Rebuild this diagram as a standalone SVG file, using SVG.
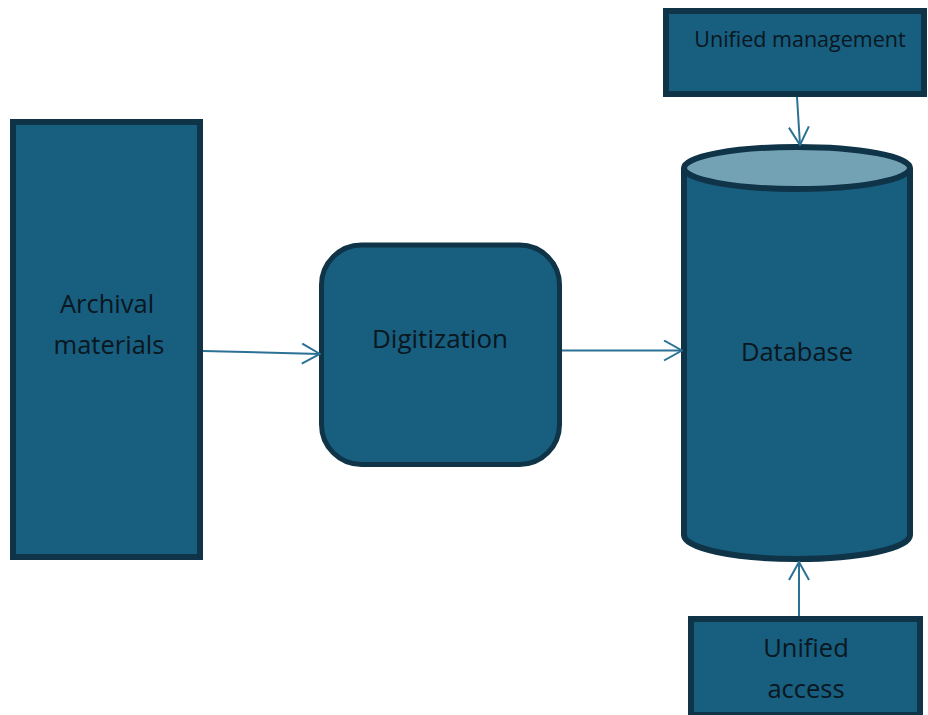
<svg xmlns="http://www.w3.org/2000/svg" width="928" height="715" viewBox="0 0 928 715">
<style>
.box{fill:#175e7f;stroke:#0f3347;stroke-width:6}
.lbl{font-family:"Open Sans","Noto Sans",sans-serif;fill:#0a1620;text-anchor:middle}
.conn{stroke:#2b7195;stroke-width:2;fill:none}
</style>
<defs>
<marker id="arr" viewBox="0 0 20 22" refX="19" refY="11" markerWidth="20" markerHeight="22" markerUnits="userSpaceOnUse" orient="auto">
<path d="M1,1 L19,11 L1,21" fill="none" stroke="#2b7195" stroke-width="2"/>
</marker>
</defs>
<rect width="928" height="715" fill="#ffffff"/>
<g id="archival">
<rect class="box" x="13" y="122" width="187" height="435"/>
<text class="lbl" font-size="25.5" x="107" y="313">Archival</text>
<text class="lbl" font-size="25.5" x="109" y="354">materials</text>
</g>
<g id="digitization">
<rect class="box" x="321.5" y="245" width="238" height="219.5" rx="40" ry="40" style="stroke-width:5"/>
<text class="lbl" font-size="26" x="440" y="348">Digitization</text>
</g>
<g id="database">
<path class="box" d="M684,168 L684,535 A113,24 0 0 0 910,535 L910,168"/>
<ellipse cx="797" cy="168" rx="113" ry="21" fill="#74a2b5" stroke="#0f3347" stroke-width="6"/>
<text class="lbl" font-size="25.5" x="797" y="361">Database</text>
</g>
<g id="unified-management">
<rect class="box" x="666" y="11" width="258" height="83"/>
<text class="lbl" font-size="21.5" x="800" y="47">Unified management</text>
</g>
<g id="unified-access">
<rect class="box" x="691" y="619" width="229" height="96"/>
<text class="lbl" font-size="25.5" x="806" y="657">Unified</text>
<text class="lbl" font-size="25.5" x="806" y="698">access</text>
</g>
<g id="connectors">
<line class="conn" x1="203" y1="351" x2="320" y2="354" marker-end="url(#arr)"/>
<line class="conn" x1="562" y1="350.5" x2="682" y2="350.5" marker-end="url(#arr)"/>
<line class="conn" x1="797" y1="97" x2="800" y2="145" marker-end="url(#arr)"/>
<line class="conn" x1="799" y1="616" x2="799" y2="562" marker-end="url(#arr)"/>
</g>
</svg>
